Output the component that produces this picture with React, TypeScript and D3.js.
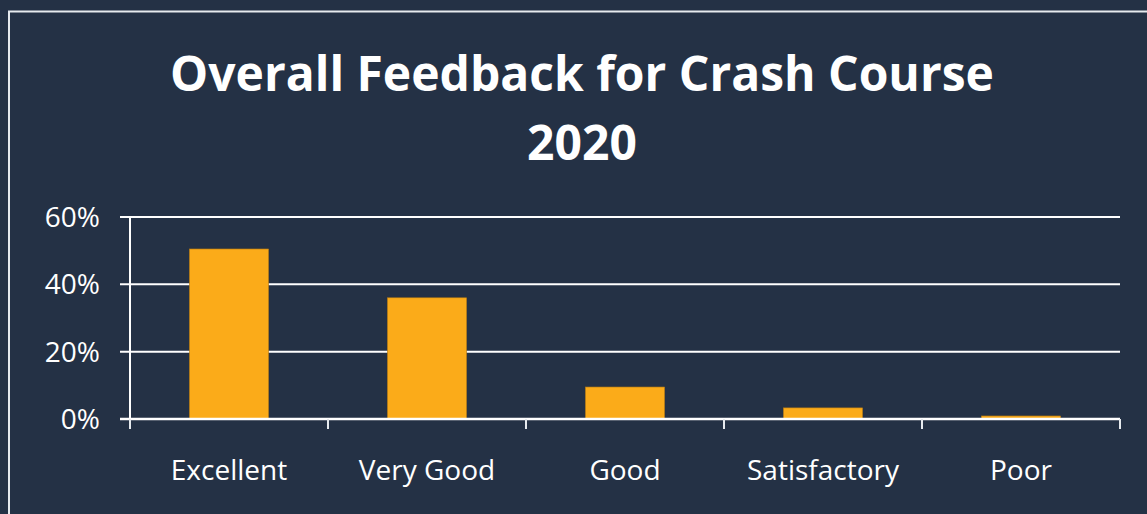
import * as d3 from "d3";
import { useEffect, useRef } from "react";

const categories = ["Excellent", "Very Good", "Good", "Satisfactory", "Poor"];
const shares = [0.505, 0.36, 0.095, 0.033, 0.009];
const yTicks = [0, 0.2, 0.4, 0.6];
const titleLines = ["Overall Feedback for Crash Course", "2020"];

const App = () => {
  const ref = useRef<SVGSVGElement>(null);

  useEffect(() => {
    const width = 1147, height = 514;
    const svg = d3.select(ref.current);
    svg.selectAll("*").remove();
    svg.attr("width", width).attr("height", height);

    const font = "'Open Sans', sans-serif";
    const bg = "#243145";

    svg.append("rect").attr("width", width).attr("height", height).attr("fill", bg);
    svg.append("rect")
      .attr("x", 9).attr("y", 11.5)
      .attr("width", 1160).attr("height", 520)
      .attr("fill", "none").attr("stroke", "#e6eaee").attr("stroke-width", 2);

    // title
    svg.append("g")
      .selectAll("text")
      .data(titleLines)
      .enter()
      .append("text")
      .attr("x", 582)
      .attr("y", (d, i) => 91 + i * 69)
      .attr("text-anchor", "middle")
      .attr("fill", "white")
      .attr("font-family", font)
      .attr("font-weight", 700)
      .attr("font-size", "48px")
      .text(d => d);

    const x = d3.scaleBand().domain(categories).range([130, 1120]).paddingInner(0.6).paddingOuter(0.3);
    const y = d3.scaleLinear().domain([0, 0.6]).range([419, 217]);

    // gridlines + y labels
    const grid = svg.append("g");
    grid.selectAll("line")
      .data(yTicks)
      .enter()
      .append("line")
      .attr("x1", 120).attr("x2", 1120)
      .attr("y1", d => y(d)).attr("y2", d => y(d))
      .attr("stroke", "white").attr("stroke-width", 2);
    grid.selectAll("text")
      .data(yTicks)
      .enter()
      .append("text")
      .attr("x", 100)
      .attr("y", d => y(d) + 10)
      .attr("text-anchor", "end")
      .attr("fill", "white")
      .attr("font-family", font)
      .attr("font-size", "28px")
      .text(d => d3.format(".0%")(d));

    // bars
    svg.append("g")
      .selectAll("rect")
      .data(categories)
      .enter()
      .append("rect")
      .attr("x", d => x(d)!)
      .attr("width", x.bandwidth())
      .attr("y", (d, i) => y(shares[i]))
      .attr("height", (d, i) => y(0) - y(shares[i]))
      .attr("fill", "#fbab19")
      .attr("stroke", "#b57a14")
      .attr("stroke-width", 0.6);

    // axes
    svg.append("line")
      .attr("x1", 120).attr("x2", 1120)
      .attr("y1", y(0)).attr("y2", y(0))
      .attr("stroke", "white").attr("stroke-width", 2.5);
    svg.append("line")
      .attr("x1", 130).attr("x2", 130)
      .attr("y1", y(0.6)).attr("y2", y(0) + 10)
      .attr("stroke", "white").attr("stroke-width", 2);

    const [r0, r1] = x.range();
    const bounds = d3.range(categories.length + 1).map(i => r0 + (i * (r1 - r0)) / categories.length);
    svg.append("g")
      .selectAll("line")
      .data(bounds)
      .enter()
      .append("line")
      .attr("x1", d => d).attr("x2", d => d)
      .attr("y1", y(0)).attr("y2", y(0) + 10)
      .attr("stroke", "#e6eaee").attr("stroke-width", 2);

    svg.append("g")
      .selectAll("text")
      .data(categories)
      .enter()
      .append("text")
      .attr("x", d => x(d)! + x.bandwidth() / 2)
      .attr("y", 480)
      .attr("text-anchor", "middle")
      .attr("fill", "white")
      .attr("font-family", font)
      .attr("font-size", "28px")
      .text(d => d);
  }, []);

  return <svg ref={ref} style={{ position: "absolute", left: 0, top: 0 }}></svg>;
};

export default App;
